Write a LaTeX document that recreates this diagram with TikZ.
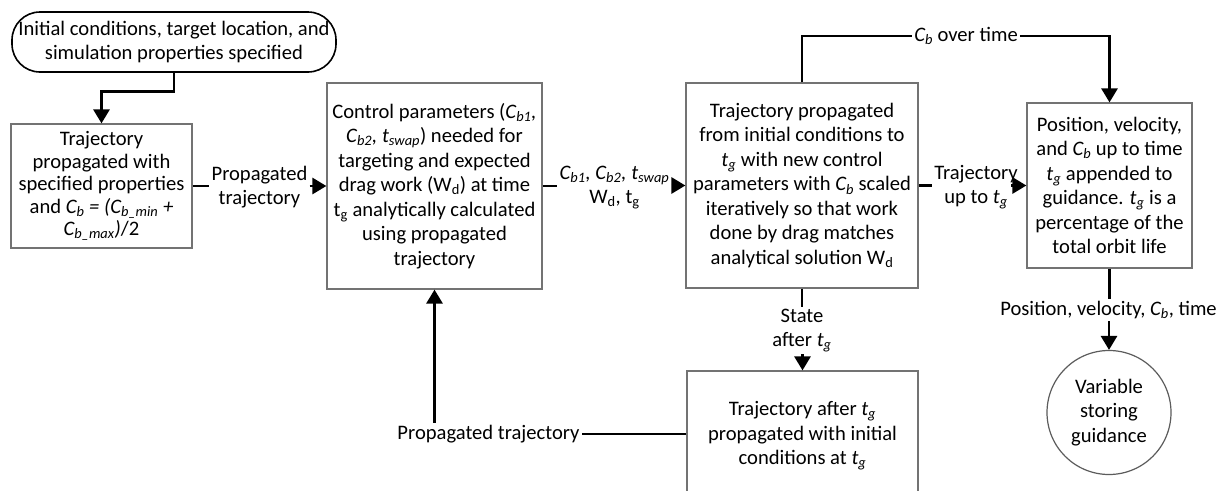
\documentclass[tikz,border=0pt]{standalone}
\usepackage{fontspec}
\setmainfont{Carlito}
\usetikzlibrary{arrows.meta,calc}
\definecolor{boxgray}{RGB}{115,115,115}
\newcommand\Csub[1]{\textit{C\textsubscript{#1}}}
\newcommand\tgi{\textit{t\textsubscript{g}}}
\tikzset{
  box/.style={draw=boxgray, line width=1.2pt, align=center, inner sep=0pt, font=\fontsize{20.6}{24.5}\selectfont},
  conn/.style={line width=2.8pt, black},
  arr/.style={conn, -{Triangle[width=16pt,length=14pt]}},
  lbl/.style={inner sep=2pt, align=center, font=\fontsize{20.6}{24.5}\selectfont},
}
\begin{document}
\begin{tikzpicture}[x=1pt,y=-1pt]
\clip (0,0) rectangle (1225,490);
\fill[white] (0,0) rectangle (1225,490);

\node[box, draw=black, line width=1.6pt, rounded corners=28pt, minimum width=324pt, minimum height=60pt] (top) at (174,42)
  {Initial conditions, target location, and\\simulation properties specified};

\node[box, minimum width=181pt, minimum height=124pt, font=\fontsize{20.6}{22.5}\selectfont] (b1) at (101.5,186)
  {Trajectory\\propagated with\\specified properties\\and \textit{C\textsubscript{b} = (C\textsubscript{b\_min} +}\\\textit{C\textsubscript{b\_max})}/2};

\node[box, minimum width=215pt, minimum height=206pt] (b2) at (434.5,186)
  {Control parameters (\Csub{b1}\textit{,}\\\Csub{b2}\textit{,} \textit{t\textsubscript{swap}}) needed for\\targeting and expected\\drag work (W\textsubscript{d}) at time\\t\textsubscript{g} analytically calculated\\using propagated\\trajectory};

\node[box, minimum width=232pt, minimum height=205pt] (b3) at (802,185.5)
  {Trajectory propagated\\from initial conditions to\\\tgi{} with new control\\parameters with \Csub{b} scaled\\iteratively so that work\\done by drag matches\\analytical solution W\textsubscript{d}};

\node[box, minimum width=165pt, minimum height=165pt] (b4) at (1109.5,185.5)
  {Position, velocity,\\and \Csub{b} up to time\\\tgi{} appended to\\guidance. \tgi{} is a\\percentage of the\\total orbit life};

\node[box, circle, draw=boxgray!80!black, minimum size=124pt] (c) at (1109,412.5)
  {Variable\\storing\\guidance};

\node[box, minimum width=231pt, minimum height=130pt] (b5) at (802.5,436)
  {Trajectory after \tgi\\propagated with initial\\conditions at \tgi};

% labels
\node[lbl] (l1) at (259.5,187) {Propagated\\trajectory};
\node[lbl] (l2) at (614.5,187.5) {\Csub{b1}\textit{,} \Csub{b2}\textit{,} \textit{t\textsubscript{swap}}\\W\textsubscript{d}, t\textsubscript{g}};
\node[lbl] (l3) at (966,36) {\Csub{b} over time};
\node[lbl] (l4) at (976,187) {Trajectory\\up to \tgi};
\node[lbl] (l5) at (1108.5,310) {Position, velocity, \Csub{b}, time};
\node[lbl] (l6) at (802,330.5) {State\\after \tgi};
\node[lbl] (l7) at (488.5,434) {Propagated trajectory};

% connectors
\draw[arr] (top.south) |- ($(b1.north)+(0,-32)$) -- (b1.north);
\draw[conn] (b1.east) -- (b1.east -| l1.west);
\draw[arr] (b2.west -| l1.east) -- (b2.west);
\draw[conn] (b2.east) -- (b2.east -| l2.west);
\draw[arr] (b3.west -| l2.east) -- (b3.west);
\draw[conn] (b3.north) |- (l3.west);
\draw[arr] (l3.east) -| (b4.north);
\draw[conn] (b3.east) -- (b3.east -| l4.west);
\draw[arr] ($(b4.west)+(-15,0)$) -- (b4.west);
\draw[conn] (b4.south) -- (b4.south |- l5.north);
\draw[arr] (c.north |- l5.south) -- (c.north);
\draw[conn] (b3.south) -- (b3.south |- l6.north);
\draw[arr] (b5.north |- l6.south) -- (b5.north);
\draw[conn] (b5.west |- l7) -- (l7.east);
\draw[arr] (l7.north -| b2.south) -- (b2.south);
\end{tikzpicture}
\end{document}
